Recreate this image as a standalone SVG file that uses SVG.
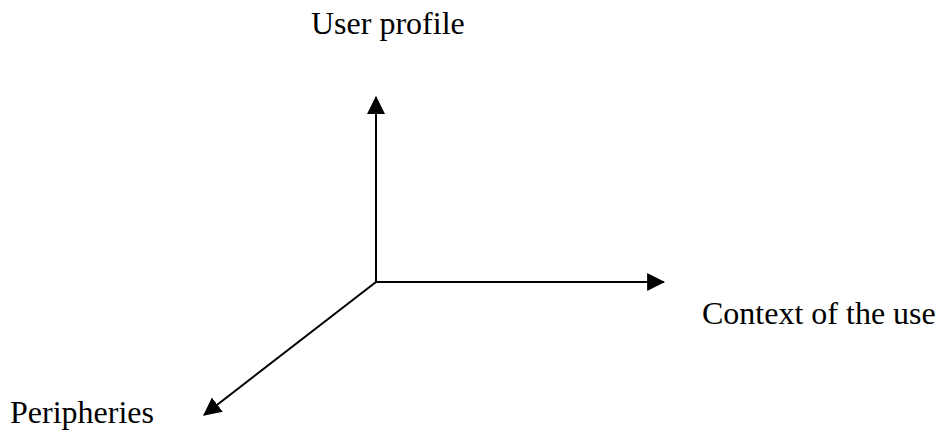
<svg xmlns="http://www.w3.org/2000/svg" width="939" height="432" viewBox="0 0 939 432">
<style>
.lbl{font-family:"Liberation Serif","Times New Roman",serif;font-size:32px;fill:#000}
.ax{stroke:#000;stroke-width:2;fill:none}
</style>
<defs>
<marker id="ah" markerUnits="userSpaceOnUse" markerWidth="18" markerHeight="18" viewBox="0 0 16 16" refX="15" refY="8" orient="auto">
<path d="M0,0 L16,8 L0,16 Z" fill="#000"/>
</marker>
</defs>
<rect width="939" height="432" fill="#fff"/>
<g id="connectors">
<line class="ax" x1="376" y1="283" x2="376" y2="97" marker-end="url(#ah)"/>
<line class="ax" x1="375" y1="282" x2="664" y2="282" marker-end="url(#ah)"/>
<line class="ax" x1="376" y1="282" x2="204" y2="415" marker-end="url(#ah)"/>
</g>
<g id="user-profile"><text class="lbl" x="311" y="34">User profile</text></g>
<g id="context"><text class="lbl" x="702" y="324">Context of the use</text></g>
<g id="peripheries"><text class="lbl" x="10" y="423">Peripheries</text></g>
</svg>
